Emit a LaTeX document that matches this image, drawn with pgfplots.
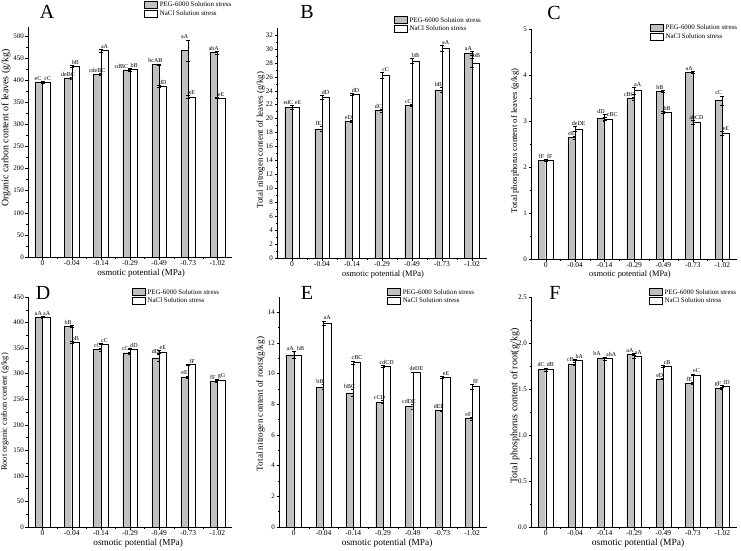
\documentclass[border=0pt]{standalone}
\usepackage{fontspec}
\setmainfont{Liberation Serif}
\usepackage{pgfplots}
\usepackage{pgfplotstable}
\pgfplotsset{compat=1.18}
\definecolor{barg}{RGB}{192,192,192}
\newcommand{\fs}[1]{\fontsize{#1}{#1}\selectfont}

\pgfplotstableread{
x g ge gl gs w we wl ws
0 396 2 eC -1 396 2 cC 1.5
1 405 2 deBC 0 431 3 bB 0
2 413 2 cdeBC 0 467 3 aA 0
3 423 2 cdBC -5 424 3 bB 0.5
4 435 2 bcAB 0 386 3 dD 0
5 467 24 aA 0 362 3 eE 0
6 462 3 abA 0 360 2 eE 0
}\tA
\pgfplotstableread{
x g ge gl gs w we wl ws
0 21.6 0.3 edC 0 21.6 0.3 eE 2.5
1 18.5 0.35 fE 0 23.05 0.3 dD 0
2 19.65 0.1 eD 0 23.5 0.1 dD 0
3 21.15 0.2 dC 0 26.2 0.4 cC 0
4 21.9 0.15 cC 0 28.3 0.35 bB 0
5 24.1 0.35 bB 0 30.1 0.45 aA 0
6 29.4 0.25 aA 0 28.0 0.6 bB 1
}\tB
\pgfplotstableread{
x g ge gl gs w we wl ws
0 2.15 0.02 fF -0.5 2.15 0.02 fF 0.5
1 2.64 0.03 eE 0 2.83 0.05 deDE 0
2 3.07 0.07 dD 0 3.05 0.03 cBC 4
3 3.49 0.03 cBC -1 3.66 0.08 aA 0
4 3.64 0.02 bB 0 3.19 0.03 bB 0
5 4.06 0.03 aA 0 2.97 0.05 abCD 0
6 3.45 0.1 cC 0 2.73 0.04 eE 0
}\tC
\pgfplotstableread{
x g ge gl gs w we wl ws
0 411 2 aA -0.5 411 1 aA 0.5
1 392 2 bB 0 362 2 bB 0
2 347 3 cC 0 358 1 cC 0
3 341 2 cC -1 348 1 dD 0.5
4 331 7 dD 0 343 2 eE 0
5 294 2 eE 0 318 1 fF 0
6 286 2 fF -1 288 1 gG 0.5
}\tD
\pgfplotstableread{
x g ge gl gs w we wl ws
0 11.23 0.25 aA 0 11.23 0.25 bB 3
1 9.14 0.15 bB 0 13.3 0.15 aA 0
2 8.75 0.25 bBC 0 10.74 0.1 cBC 0
3 8.16 0.1 cCD 0 10.5 0.05 cdCD 0
4 7.86 0.15 cdDE 0 10.1 0.02 deDE 0
5 7.6 0.05 dEF 0 9.78 0.05 eE 0
6 7.07 0.1 eF 0 9.16 0.15 fF 0
}\tE
\pgfplotstableread{
x g ge gl gs w we wl ws
0 1.71 0.02 dC -1 1.71 0.02 dB 1
1 1.775 0.02 cB -1 1.815 0.005 bA 0.5
2 1.84 0.01 bA -4 1.83 0.015 abA 3
3 1.875 0.01 aA -0.5 1.855 0.015 aA 0.5
4 1.61 0.005 eD 0 1.75 0.01 cB 0
5 1.565 0.01 fE 0 1.655 0.01 eC 0
6 1.505 0.01 gF -0.5 1.535 0.01 fD 0.5
}\tF

\pgfplotsset{
 panel/.style={
  scale only axis, width=204pt, height=230pt,
  axis x line*=bottom, axis y line*=left,
  xmin=-0.5, xmax=6.5, ymin=0,
  xtick={0,...,6}, xticklabels={0,-0.04,-0.14,-0.29,-0.49,-0.73,-1.02},
  minor x tick num=1, minor y tick num=1,
  tick align=outside, major tick length=2.5pt, minor tick length=1.5pt,
  tick style={black, line width=0.4pt},
  axis line style={line width=0.5pt, black},
  xticklabel style={font=\fs{7.5}, inner sep=0.5pt},
  yticklabel style={font=\fs{7}, inner sep=1.5pt},
  /pgf/number format/assume math mode=true,
  legend style={draw=none, fill=none, font=\fs{6.9}, inner sep=0pt,
    row sep=1pt, column sep=1.5pt, anchor=north west,
    nodes={inner sep=0.5pt}},
  legend cell align=left,
  legend image code/.code={\draw[#1, draw=black, line width=0.4pt] (0pt,-3pt) rectangle (13pt,4pt);},
  clip=false,
 },
 gbar/.style={ybar, bar width=7.3pt, bar shift=-3.65pt, fill=barg, draw=black, line width=0.4pt,
   error bars/.cd, y dir=both, y explicit, error bar style={line width=0.4pt, black},
   error mark options={rotate=90, mark size=2pt, line width=0.4pt, black}},
 wbar/.style={ybar, bar width=7.3pt, bar shift=3.65pt, fill=white, draw=black, line width=0.4pt,
   error bars/.cd, y dir=both, y explicit, error bar style={line width=0.4pt, black},
   error mark options={rotate=90, mark size=2pt, line width=0.4pt, black}},
 lab/.style 2 args={only marks, mark=none, forget plot, point meta=explicit symbolic, nodes near coords,
   visualization depends on={\thisrow{#1} \as \lshift},
   every node near coord/.append style={font=\fs{6}, inner sep=0.6pt, anchor=south, xshift={#2+\lshift pt}, black}},
}

\newcommand{\panelplots}[1]{%
  \addplot[gbar] table[x=x, y=g, y error=ge] {#1};
  \addplot[wbar] table[x=x, y=w, y error=we] {#1};
  \addplot[lab={gs}{-3.65pt}] table[x=x, y expr=\thisrow{g}+\thisrow{ge}, meta=gl] {#1};
  \addplot[lab={ws}{3.65pt}] table[x=x, y expr=\thisrow{w}+\thisrow{we}, meta=wl] {#1};
  \legend{PEG-6000 Solution stress, NaCl Solution stress}
}

\begin{document}
\begin{tikzpicture}
\path[use as bounding box] (0,0) rectangle (741pt,-550pt);

% A
\begin{axis}[panel, at={(28pt,-257pt)}, anchor=south west, width=204pt,
  ymax=520, ytick={0,50,...,500},
  ylabel={Organic carbon content of leaves (g/kg)},
  ylabel style={font=\fs{9.9}, at={(axis description cs:-0.108,0.56)}, anchor=center},
  xlabel={osmotic potential (MPa)},
  xlabel style={font=\fs{9}, at={(axis description cs:0.554,-0.07)}, anchor=center},
  legend style={at={(axis description cs:0.57,1.115)}}]
\panelplots{\tA}
\end{axis}

% B
\begin{axis}[panel, at={(277pt,-258pt)}, anchor=south west, width=210pt,
  ymax=33, ytick={0,2,...,32},
  ylabel={Total nitrogen content of leaves (g/kg)},
  ylabel style={font=\fs{8.9}, at={(axis description cs:-0.078,0.513)}, anchor=center},
  xlabel={osmotic potential (MPa)},
  xlabel style={font=\fs{8.4}, at={(axis description cs:0.505,-0.07)}, anchor=center},
  legend style={at={(axis description cs:0.557,1.052)}}]
\panelplots{\tB}
\end{axis}

% C
\begin{axis}[panel, at={(531pt,-259pt)}, anchor=south west, width=206pt,
  ymax=5, ytick={0,...,5},
  ylabel={Total phosphorus content of leaves (g/kg)},
  ylabel style={font=\fs{8.7}, at={(axis description cs:-0.078,0.513)}, anchor=center},
  xlabel={osmotic potential (MPa)},
  xlabel style={font=\fs{8.4}, at={(axis description cs:0.48,-0.066)}, anchor=center},
  legend style={at={(axis description cs:0.578,1.022)}}]
\panelplots{\tC}
\end{axis}

% D
\begin{axis}[panel, at={(28pt,-527pt)}, anchor=south west, width=204pt,
  ymax=450, ytick={0,50,...,450},
  ylabel={Root organic carbon content (g/kg)},
  ylabel style={font=\fs{8.4}, at={(axis description cs:-0.113,0.5)}, anchor=center},
  xlabel={osmotic potential (MPa)},
  xlabel style={font=\fs{9.2}, at={(axis description cs:0.54,-0.072)}, anchor=center},
  legend style={at={(axis description cs:0.51,1.039)}}]
\panelplots{\tD}
\end{axis}

% E
\begin{axis}[panel, at={(279pt,-527pt)}, anchor=south west, width=208pt,
  ymax=15, ytick={0,2,...,14},
  ylabel={Total nitrogen content of roots(g/kg)},
  ylabel style={font=\fs{9.2}, at={(axis description cs:-0.088,0.535)}, anchor=center},
  xlabel={osmotic potential (MPa)},
  xlabel style={font=\fs{9.3}, at={(axis description cs:0.52,-0.072)}, anchor=center},
  legend style={at={(axis description cs:0.52,1.039)}}]
\panelplots{\tE}
\end{axis}

% F
\begin{axis}[panel, at={(531pt,-527pt)}, anchor=south west, width=206pt,
  ymax=2.5, ytick={0,0.5,...,2.5},
  yticklabel style={/pgf/number format/.cd, fixed, fixed zerofill, precision=1},
  ylabel={Total phosphorus content of root(g/kg)},
  ylabel style={font=\fs{10}, at={(axis description cs:-0.078,0.526)}, anchor=center},
  xlabel={osmotic potential (MPa)},
  xlabel style={font=\fs{9.5}, at={(axis description cs:0.52,-0.072)}, anchor=center},
  legend style={at={(axis description cs:0.573,1.039)}}]
\panelplots{\tF}
\end{axis}

\node[font=\fs{20}] at (47pt,-12pt) {A};
\node[font=\fs{20}] at (307pt,-12pt) {B};
\node[font=\fs{20}] at (554pt,-13pt) {C};
\node[font=\fs{20}] at (43pt,-293pt) {D};
\node[font=\fs{20}] at (307pt,-293pt) {E};
\node[font=\fs{20}] at (555pt,-293pt) {F};
\end{tikzpicture}
\end{document}
